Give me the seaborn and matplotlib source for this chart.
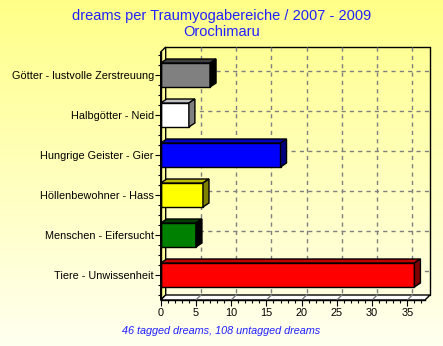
import numpy as np
import pandas as pd
import matplotlib
matplotlib.use("Agg")
import matplotlib.pyplot as plt
import seaborn as sns
from matplotlib.patches import Polygon
from matplotlib.lines import Line2D
from matplotlib.ticker import MultipleLocator, FixedLocator

# ---- data -------------------------------------------------------------
categories = [
    "Götter - lustvolle Zerstreuung",
    "Halbgötter - Neid",
    "Hungrige Geister - Gier",
    "Höllenbewohner - Hass",
    "Menschen - Eifersucht",
    "Tiere - Unwissenheit",
]
counts = [7, 4, 17, 6, 5, 36]
x_ticks = [0, 5, 10, 15, 20, 25, 30, 35]
title_lines = ["dreams per Traumyogabereiche / 2007 - 2009", "Orochimaru"]
footer = "46 tagged dreams, 108 untagged dreams"

# bar colours: front face, top face, right side face
face_colors = ["#808080", "#ffffff", "#0000ff", "#ffff00", "#008000", "#ff0000"]
top_colors = ["#404040", "#c0c0c0", "#0000c0", "#c0c000", "#004000", "#c00000"]
side_colors = ["#000000", "#808080", "#000080", "#808000", "#000000", "#800000"]

# ---- style ------------------------------------------------------------
sns.set_theme(style="white")
plt.rcParams["font.family"] = ["Liberation Sans", "DejaVu Sans"]

W, H = 443, 346
fig = plt.figure(figsize=(W / 100, H / 100), dpi=100)

# soft yellow vertical gradient behind everything
bg = fig.add_axes([0, 0, 1, 1], zorder=-10)
g = np.linspace(0, 1, 256)[:, None, None]
c_top = np.array([255, 255, 136]) / 255
c_bot = np.array([255, 255, 240]) / 255
bg.imshow(c_top * (1 - g) + c_bot * g, aspect="auto", extent=[0, 1, 0, 1])
bg.axis("off")

# front plane of the plot in pixels
L, R, T, B = 160.7, 425.0, 52.0, 300.0
XMAX = 37.5
YTOP, YBOT = -0.575, 5.625
ax = fig.add_axes([L / W, 1 - B / H, (R - L) / W, (B - T) / H])
ax.patch.set_alpha(0)

df = pd.DataFrame({"realm": categories, "dreams": counts})
sns.barplot(data=df, x="dreams", y="realm", hue="realm", palette=face_colors,
            orient="h", width=0.6, saturation=1, edgecolor="black",
            linewidth=1, legend=False, ax=ax, zorder=3)

ax.set_xlim(0, XMAX)
ax.set_ylim(YBOT, YTOP)

sx = (R - L) / XMAX          # pixels per unit along x
sy = (B - T) / (YBOT - YTOP)  # pixels per category step


def shift(px, py):
    """pixel depth offset (right, up) -> data offsets"""
    return px / sx, -py / sy


# walls of the 3D box
dxw, dyw = shift(5, 5)
btop, bbot = YTOP + dyw, YBOT + dyw
ax.add_patch(Polygon([(0, YBOT), (0, YTOP), (dxw, btop), (dxw, bbot)],
                     closed=True, facecolor="#ffff99", edgecolor="black",
                     linewidth=1, clip_on=False, zorder=1))
ax.add_patch(Polygon([(0, YBOT), (dxw, bbot), (XMAX + dxw, bbot), (XMAX, YBOT)],
                     closed=True, facecolor="#ffffff", edgecolor="black",
                     linewidth=1, clip_on=False, zorder=1))
for xs, ys in [([dxw, XMAX + dxw], [btop, btop]),
               ([XMAX + dxw, XMAX + dxw], [btop, bbot])]:
    ax.add_line(Line2D(xs, ys, color="black", linewidth=1, clip_on=False, zorder=1.2))

# dashed grid on the back wall
for t in x_ticks[1:]:
    ax.add_line(Line2D([t + dxw, t + dxw], [btop, bbot], color="#808080",
                       linewidth=1, linestyle=(0, (3, 3)), clip_on=False, zorder=1.5))
    ax.add_line(Line2D([t, t + dxw], [YBOT, bbot], color="#808080",
                       linewidth=1, clip_on=False, zorder=1.5))
bdx, bdy = shift(6, 4)
for i in range(len(categories)):
    ax.add_line(Line2D([dxw, XMAX + dxw], [i + bdy, i + bdy], color="#808080",
                       linewidth=1, linestyle=(0, (3, 3)), clip_on=False, zorder=1.5))

# depth faces of the bars
for p in list(ax.patches):
    if not hasattr(p, "get_width") or p.get_height() == 0:
        continue
    if p.get_facecolor()[3] == 0:
        continue
    x0, y0, w, h = p.get_x(), p.get_y(), p.get_width(), p.get_height()
    if w <= 0:
        continue
    idx = int(round(y0 + h / 2))
    if idx < 0 or idx >= len(categories):
        continue
    yt, yb = min(y0, y0 + h), max(y0, y0 + h)
    top = [(x0, yt), (x0 + bdx, yt + bdy), (x0 + w + bdx, yt + bdy), (x0 + w, yt)]
    side = [(x0 + w, yt), (x0 + w + bdx, yt + bdy), (x0 + w + bdx, yb + bdy), (x0 + w, yb)]
    ax.add_patch(Polygon(top, closed=True, facecolor=top_colors[idx],
                         edgecolor="black", linewidth=1, clip_on=False, zorder=3.1))
    ax.add_patch(Polygon(side, closed=True, facecolor=side_colors[idx],
                         edgecolor="black", linewidth=1, clip_on=False, zorder=3.1))

# axes, ticks, labels
for s in ["top", "right"]:
    ax.spines[s].set_visible(False)
for s in ["left", "bottom"]:
    ax.spines[s].set_color("black")
    ax.spines[s].set_linewidth(1)
    ax.spines[s].set_zorder(4)
ax.set_xlabel("")
ax.set_ylabel("")
ax.xaxis.set_major_locator(FixedLocator(x_ticks))
ax.xaxis.set_minor_locator(MultipleLocator(1))
ax.yaxis.set_minor_locator(MultipleLocator(0.25))
ax.tick_params(axis="both", which="both", bottom=True, left=True,
               direction="out", color="black", width=0.8,
               labelcolor="black", labelsize=7.8)
ax.tick_params(axis="x", which="major", length=4, pad=1.5)
ax.tick_params(axis="x", which="minor", length=2)
ax.tick_params(axis="y", which="major", length=4, pad=1)
ax.tick_params(axis="y", which="minor", length=2.5)

# titles and footer
fig.text(0.5, 1 - 16 / H, title_lines[0], ha="center", va="center",
         color="#2020ff", fontsize=10.5)
fig.text(0.5, 1 - 32 / H, title_lines[1], ha="center", va="center",
         color="#2020ff", fontsize=10.5)
fig.text(221 / W, 1 - 331 / H, footer, ha="center", va="center",
         color="#2020ff", fontsize=7.8, style="italic")

fig.savefig("out.png", dpi=100)
